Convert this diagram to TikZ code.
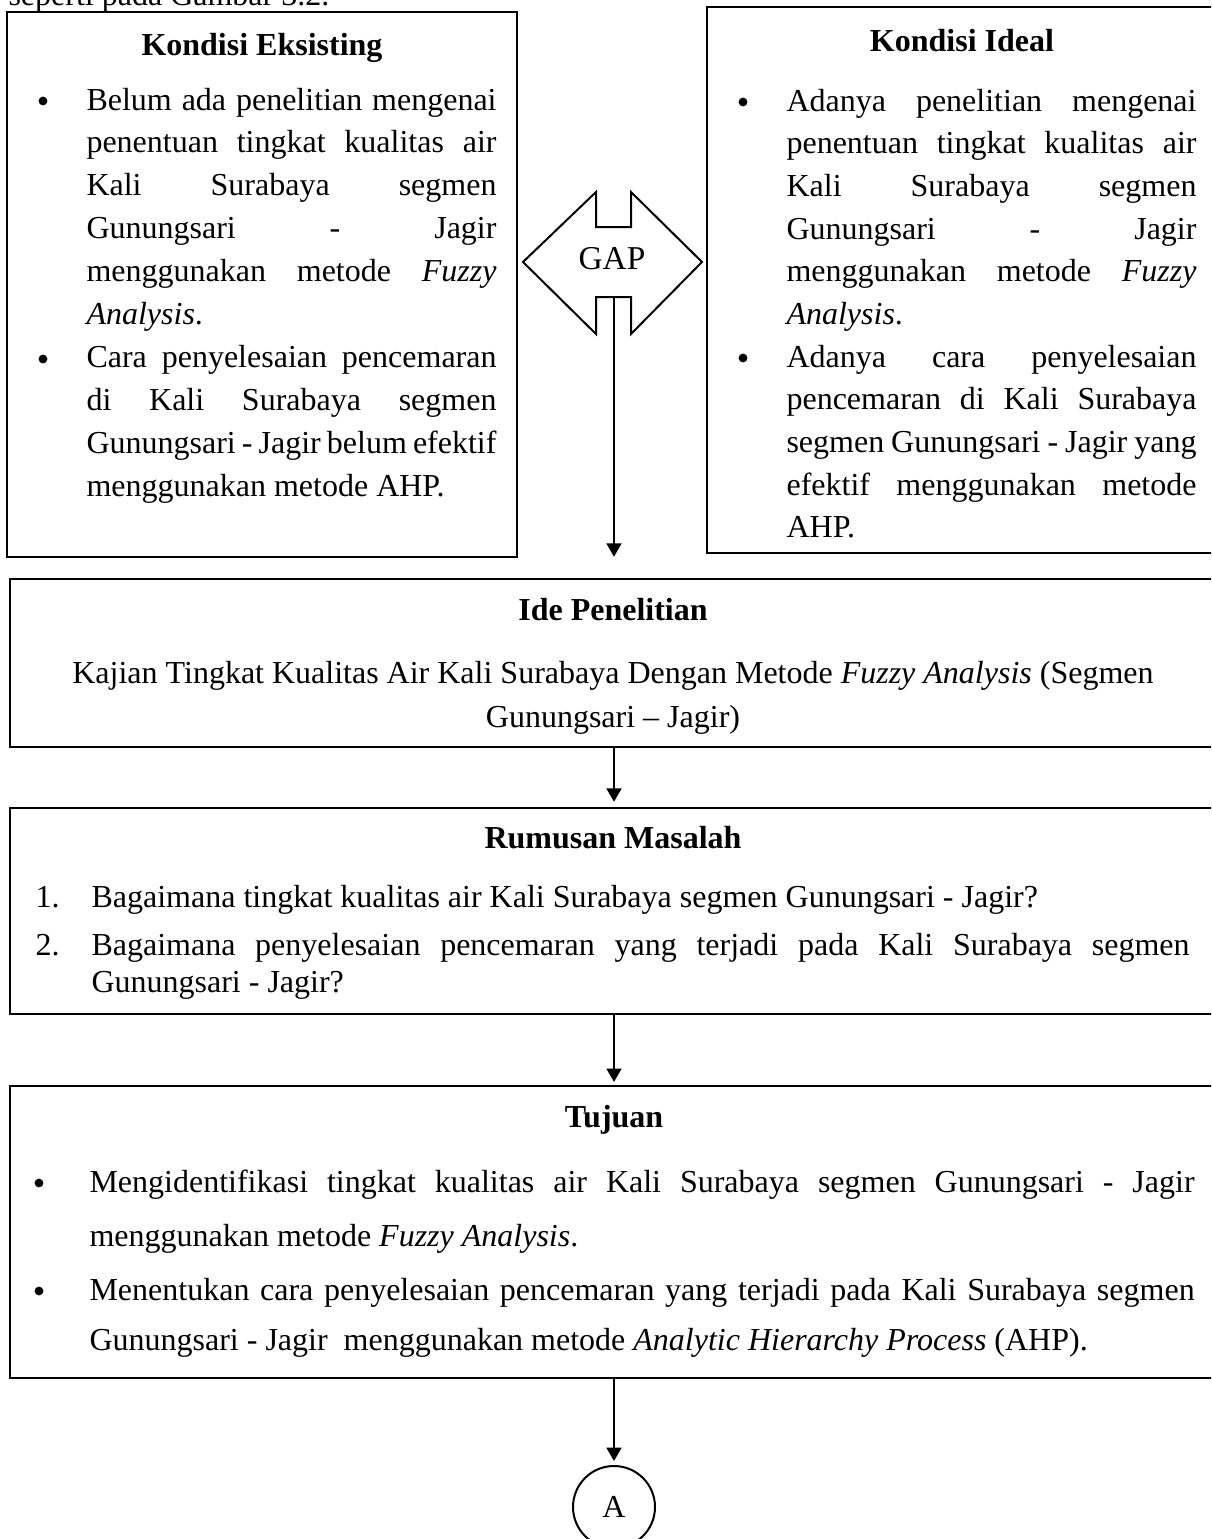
\documentclass[tikz,border=0pt]{standalone}
\usepackage{fontspec}
\setmainfont{Liberation Serif}
\usetikzlibrary{arrows.meta,fit}
\newcommand\jrow[1]{\hbox to\hsize{#1}}
\newcommand\lrow[1]{\hbox to\hsize{#1\hfil}}
\newcommand\tblock[2]{\vtop{\hsize=#1\relax#2}}
\hbadness=10000
\hfuzz=20pt

\begin{document}
\begin{tikzpicture}[
		x=0.375pt, y=-0.375pt,
		box/.style={draw, line width=0.9pt, inner sep=0pt},
		txt/.style={inner sep=0pt, anchor=base west, font=\fontsize{12}{16.1}\selectfont},
		head/.style={inner sep=0pt, anchor=base, font=\fontsize{12}{14}\selectfont\bfseries},
		dot/.style={inner sep=0pt, anchor=base, font=\fontsize{12}{14}\selectfont},
		bul/.style={circle, fill, inner sep=0pt, minimum size=3.3pt},
		arr/.style={line width=0.7pt, -{Triangle[width=5.6pt,length=5pt]}}
	]
	\useasboundingbox (0,0) rectangle (1211,1539);
	\clip (0,0) rectangle (1211,1539);
	\node[txt] (intro) at (8,5) {seperti pada Gambar 3.2.};

	\node[box, fit={(7,12) (517,557)}] (eks) {};
	\node[head] (eksT) at (262,55) {Kondisi Eksisting};
	\node[bul] (e1) at (43,101) {};
	\node[bul] (e2) at (43,359) {};
	\node[txt] (eksL) at (86,110) {\tblock{153.75pt}{%
		\jrow{Belum ada penelitian mengenai}
		\jrow{penentuan tingkat kualitas air}
		\jrow{Kali Surabaya segmen}
		\jrow{Gunungsari - Jagir}
		\jrow{menggunakan metode \textit{Fuzzy}}
		\lrow{\textit{Analysis}.}
		\jrow{Cara penyelesaian pencemaran}
		\jrow{di Kali Surabaya segmen}
		\jrow{Gunungsari - Jagir belum efektif}
		\lrow{menggunakan metode AHP.}}};

	\node[box, fit={(707,7) (1217,553)}] (ideal) {};
	\node[head] (idealT) at (962,51) {Kondisi Ideal};
	\node[bul] (i1) at (743,102) {};
	\node[bul] (i2) at (743,358) {};
	\node[txt, font=\fontsize{12}{16}\selectfont] (idealL) at (786,111) {\tblock{153.75pt}{%
		\jrow{Adanya penelitian mengenai}
		\jrow{penentuan tingkat kualitas air}
		\jrow{Kali Surabaya segmen}
		\jrow{Gunungsari - Jagir}
		\jrow{menggunakan metode \textit{Fuzzy}}
		\lrow{\textit{Analysis}.}
		\jrow{Adanya cara penyelesaian}
		\jrow{pencemaran di Kali Surabaya}
		\jrow{segmen Gunungsari - Jagir yang}
		\jrow{efektif menggunakan metode}
		\lrow{AHP.}}};

	\draw[line width=0.75pt] (523,262) -- (596,192) -- (596,227) -- (631,227) -- (631,192) -- (702,262)
		-- (631,334) -- (631,297) -- (596,297) -- (596,334) -- cycle;
	\node[dot, font=\fontsize{12.5}{14}\selectfont] (gap) at (612,269) {GAP};
	\coordinate (gapout) at (614,297);

	\node[box, fit={(10,579) (1217,747)}] (ide) {};
	\node[head] (ideT) at (613,620) {Ide Penelitian};
	\node[dot] (ideL1) at (613,683) {Kajian Tingkat Kualitas Air Kali Surabaya Dengan Metode \textit{Fuzzy Analysis} (Segmen};
	\node[dot] (ideL2) at (613,727) {Gunungsari – Jagir)};

	\node[box, fit={(10,808) (1217,1014)}] (rum) {};
	\node[head] (rumT) at (613,848) {Rumusan Masalah};
	\node[txt] (n1) at (35,907) {1.};
	\node[txt] (n2) at (35,955) {2.};
	\node[txt] (r1) at (91,907) {\tblock{411.75pt}{%
		\lrow{Bagaimana tingkat kualitas air Kali Surabaya segmen Gunungsari - Jagir?}}};
	\node[txt, font=\fontsize{12}{13.9}\selectfont] (r2) at (91,955) {\tblock{411.75pt}{%
		\jrow{Bagaimana penyelesaian pencemaran yang terjadi pada Kali Surabaya segmen}
		\lrow{Gunungsari - Jagir?}}};

	\node[box, fit={(10,1086) (1217,1378)}] (tuj) {};
	\node[head] (tujT) at (614,1127) {Tujuan};
	\node[bul] (t1) at (39,1183) {};
	\node[bul] (t2) at (39,1291) {};
	\node[txt, font=\fontsize{12}{20.6}\selectfont] (tujL1) at (89,1192) {\tblock{414.4pt}{%
		\jrow{Mengidentifikasi tingkat kualitas air Kali Surabaya segmen Gunungsari - Jagir}
		\lrow{menggunakan metode \textit{Fuzzy Analysis}.}}};
	\node[txt, font=\fontsize{12}{18.8}\selectfont] (tujL2) at (89,1300) {\tblock{414.4pt}{%
		\jrow{Menentukan cara penyelesaian pencemaran yang terjadi pada Kali Surabaya segmen}
		\lrow{Gunungsari - Jagir\ \ menggunakan metode \textit{Analytic Hierarchy Process} (AHP).}}};

	\node[draw, circle, line width=0.75pt, minimum size=30.75pt, inner sep=0pt, font=\fontsize{12}{14}\selectfont] (A) at (614,1507) {A};

	\draw[arr, shorten >=7.9pt] (gapout) -- (gapout |- ide.north);
	\draw[arr, shorten >=1.9pt] (ide.south -| gapout) -- (rum.north -| gapout);
	\draw[arr, shorten >=1.1pt] (rum.south -| gapout) -- (tuj.north -| gapout);
	\draw[arr, shorten >=1.5pt] (tuj.south -| gapout) -- (A);
\end{tikzpicture}
\end{document}
